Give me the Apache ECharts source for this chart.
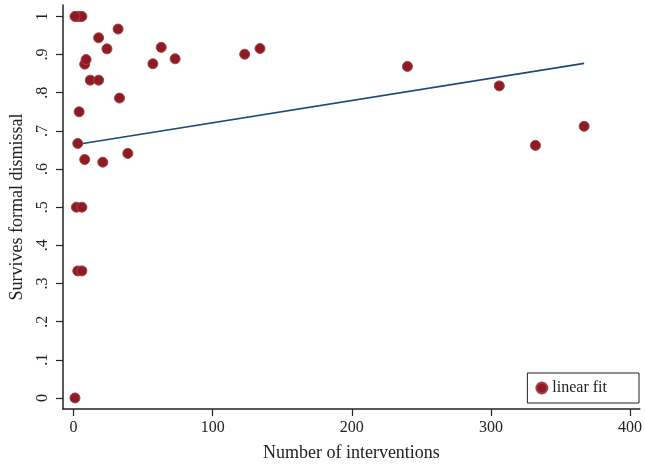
<!DOCTYPE html>
<html>
<head>
<meta charset="utf-8">
<script src="https://cdn.jsdelivr.net/npm/echarts@6/dist/echarts.min.js"></script>
<style>
html, body { margin: 0; padding: 0; background: #fff; }
#chart { width: 645px; height: 467px; }
</style>
</head>
<body>
<div id="chart"></div>
<script>
// data
var interventions = [1, 2, 3, 4, 5, 6, 1, 2, 6, 3, 6, 3, 4, 8, 21, 39, 33, 12, 18, 8, 9, 18, 24, 32, 57, 63, 73, 123, 134, 240, 306, 332, 367];
var survives = [0, 1, 1, 1, 1, 1, 1, .5, .5, .333, .333, .667, .75, .625, .618, .641, .786, .833, .833, .875, .887, .944, .915, .967, .876, .919, .889, .901, .916, .869, .818, .662, .712];
var fitX = [0, 367];
var fitY = [0.663, 0.877];
var xTicks = [0, 100, 200, 300, 400];
var yTicks = [0, .1, .2, .3, .4, .5, .6, .7, .8, .9, 1];

var chart = echarts.init(document.getElementById('chart'));

var points = interventions.map(function (x, i) { return [x, survives[i]]; });
var fit = fitX.map(function (x, i) { return [x, fitY[i]]; });

var serif = '"Liberation Serif", "DejaVu Serif", serif';

var option = {
	animation: false,
	grid: { left: 60, right: 0, top: 5, bottom: 56 },
	legend: {
		right: 6,
		top: 373,
		data: [{ name: 'linear fit', icon: 'circle' }],
		itemWidth: 11,
		itemHeight: 11,
		borderColor: '#222',
		borderWidth: 1,
		borderRadius: 0,
		padding: [7, 32, 7, 8],
		textStyle: { fontFamily: serif, fontSize: 16, color: '#222' }
	},
	xAxis: {
		type: 'value',
		min: -7.6,
		max: 407,
		name: 'Number of interventions',
		nameLocation: 'middle',
		nameGap: 35,
		nameTextStyle: { fontFamily: serif, fontSize: 18, color: '#222' },
		splitLine: { show: false },
		axisLine: { onZero: false, lineStyle: { color: '#222', width: 1.5 } },
		axisTick: { show: true, length: 7, customValues: xTicks, lineStyle: { color: '#222', width: 1.2 } },
		axisLabel: {
			customValues: xTicks,
			margin: 11,
			fontFamily: serif, fontSize: 16, color: '#222'
		}
	},
	yAxis: {
		type: 'value',
		min: -0.029,
		max: 1.03,
		name: 'Survives formal dismissal',
		nameLocation: 'middle',
		nameGap: 37,
		nameRotate: 90,
		nameTextStyle: { fontFamily: serif, fontSize: 18, color: '#222' },
		splitLine: { show: false },
		axisLine: { show: true, onZero: false, lineStyle: { color: '#222', width: 1.5 } },
		axisTick: { show: true, length: 7, customValues: yTicks, lineStyle: { color: '#222', width: 1.2 } },
		axisLabel: {
			customValues: yTicks,
			rotate: 90,
			margin: 12,
			fontFamily: serif, fontSize: 16, color: '#222',
			formatter: function (v) {
				if (v === 0) return '0';
				if (v === 1) return '1';
				return String(Math.round(v * 10) / 10).replace(/^0/, '');
			}
		}
	},
	series: [
		{
			name: 'fit',
			type: 'line',
			data: fit,
			symbol: 'none',
			lineStyle: { color: '#1c4a78', width: 1.6 },
			z: 1
		},
		{
			name: 'linear fit',
			type: 'scatter',
			data: points,
			symbol: 'circle',
			symbolSize: 10,
			itemStyle: { color: '#8b1c24', borderColor: '#a8404a', borderWidth: 1, opacity: 1 },
			z: 2
		}
	]
};

chart.setOption(option);
</script>
</body>
</html>
